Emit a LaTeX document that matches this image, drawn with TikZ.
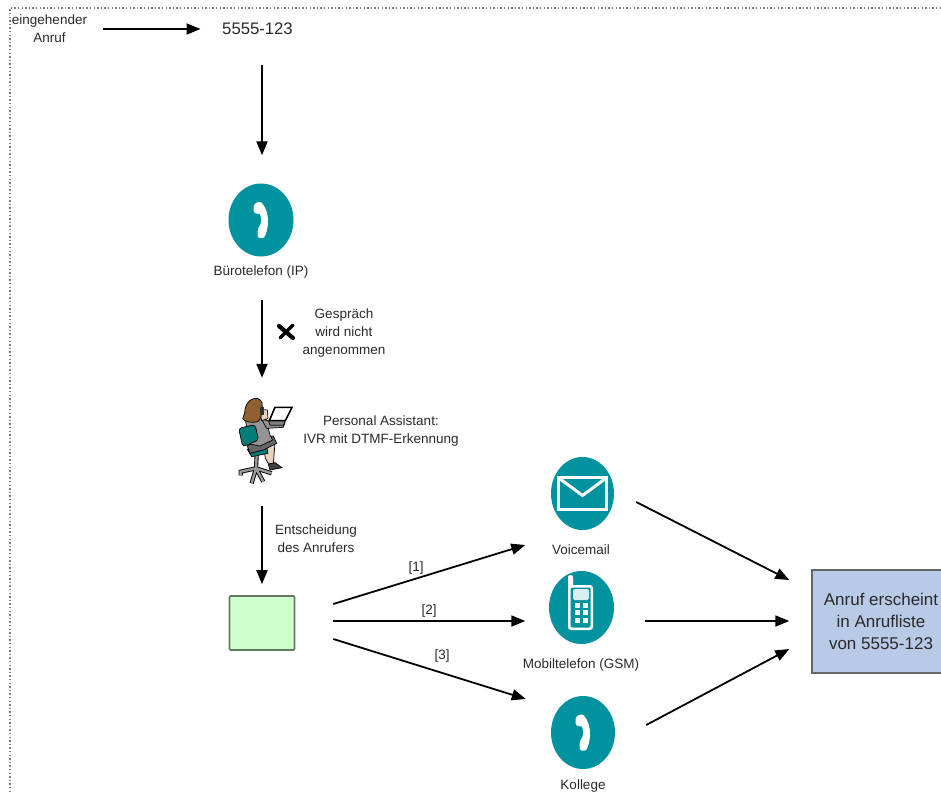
\documentclass[tikz,border=0pt]{standalone}
\usepackage{fontspec}
\setmainfont{Liberation Sans}
\usetikzlibrary{arrows.meta,shapes.geometric}
\definecolor{tealc}{HTML}{00929F}
\definecolor{txt}{HTML}{2A2A2A}
\definecolor{greenfill}{HTML}{CCFFCC}
\definecolor{bluefill}{HTML}{B8CAE6}
\definecolor{chairteal}{HTML}{007D78}
\definecolor{edgegreen}{HTML}{667766}
\tikzset{
  flow/.style={draw=black,line width=1.8pt,-{Triangle[length=14pt,width=11pt]}},
  disc/.style={ellipse,fill=tealc,draw=none,inner sep=0pt,minimum width=#1,minimum height=73pt},
  lab/.style={font=\fontsize{13.5}{18}\selectfont,text=txt,align=center,inner sep=0pt},
  pics/handset/.style={code={
    \fill[white] (-7.5,-13) .. controls (-7,-17) and (-3,-19) .. (0.5,-17.5)
      .. controls (5.5,-12) and (7.5,-4) .. (7,3)
      .. controls (6.5,9) and (5.5,14) .. (3,17.5)
      .. controls (0,19) and (-3.5,18.5) .. (-3.5,15)
      .. controls (-3.5,11) and (-3,7) .. (-1,5.5)
      .. controls (0.5,3) and (0.5,-3) .. (-1,-6)
      .. controls (-3,-6) and (-7,-6) .. (-7.5,-9.5) -- cycle;
  }},
  pics/envelope/.style={code={
    \draw[white,line width=3.4pt] (-24,-16) rectangle (24,16);
    \draw[white,line width=3pt] (-23,-15) -- (0,2) -- (23,-15);
  }},
  pics/mobile/.style={code={
    \fill[white,rounded corners=2pt] (-13.5,-32.5) rectangle (-8.5,-18);
    \fill[white,rounded corners=3pt] (-13.5,-22.5) rectangle (11.5,22.5);
    \fill[tealc,rounded corners=2pt] (-11,-20) rectangle (9,20);
    \fill[white,opacity=.85,rounded corners=2pt] (-8.5,-18.5) rectangle (7.5,-7.5);
    \foreach \yy in {-5,2,10} \foreach \xx in {-6.5,1.5} \fill[white] (\xx,\yy) rectangle ++(5.2,5);
  }},
  pics/agent/.style={code={
    \begin{scope}[line width=.7pt,draw=black]
    % chair base
    \draw[line width=4.2pt,black] (110,195)--(108,235) (108,235)--(62,245)--(62,256) (108,235)--(155,250) (108,235)--(95,280) (108,235)--(130,275);
    \draw[line width=2.4pt,black!40] (110,195)--(108,235) (108,235)--(62,245)--(62,256) (108,235)--(155,250) (108,235)--(95,280) (108,235)--(130,275);
    % legs
    \filldraw[fill=brown!35] (130,160)--(165,158)--(160,222)--(148,225)--(136,205)--cycle;
    \filldraw[fill=black!75] (145,222)--(165,218)--(186,233)--(150,240)--cycle;
    % seat
    \filldraw[fill=chairteal] (82,178)--(140,168)--(144,190)--(95,200)--cycle;
    % skirt
    \filldraw[fill=black!60] (82,168)--(120,142)--(160,138)--(170,160)--(130,180)--(90,190)--cycle;
    % torso
    \filldraw[fill=black!42] (76,88)--(120,72)--(138,88)--(150,135)--(158,150)--(120,168)--(88,162)--cycle;
    % arm
    \filldraw[fill=black!42] (125,88)--(145,92)--(195,98)--(190,112)--(140,115)--cycle;
    % chair back
    \filldraw[fill=chairteal,rounded corners=3pt] (56,115)--(105,104)--(116,150)--(68,170)--cycle;
    % head
    \filldraw[fill=brown!35] (118,58)--(142,60)--(144,85)--(125,92)--cycle;
    \filldraw[fill=brown!75!black] (74,68) .. controls (74,26) and (116,12) .. (126,38) .. controls (130,60) and (124,86) .. (114,95) .. controls (95,99) and (76,97) .. (68,86) -- cycle;
    \fill[black!80] (120,52) rectangle (131,74);
    % laptop
    \filldraw[fill=white,line width=1.6pt] (165,52)--(216,52)--(196,92)--(148,92)--cycle;
    \filldraw[fill=black!50] (146,93)--(196,93)--(190,106)--(150,106)--cycle;
    \end{scope}
  }},
}
\begin{document}
\begin{tikzpicture}[x=1pt,y=-1pt]
\useasboundingbox (0,0) rectangle (941,792);
\fill[white] (0,0) rectangle (941,792);
\begin{scope}
\clip (0,0) rectangle (941,792);
\draw[black!50,line width=1.4pt,dash pattern=on 1.4pt off 2.2pt] (941,8) -- (10,8) -- (10,792);

\node[lab] (call) at (49.5,29) {eingehender\\Anruf};
\node[lab,font=\fontsize{16.7}{18}\selectfont] (num) at (257.5,29) {5555-123};

\node[disc=65pt] (office) at (261,220) {};
\node[lab] (officelab) at (261,272.5) {Bürotelefon (IP)};
\node[lab] (nope) at (344,333.5) {Gespräch\\wird nicht\\angenommen};
\node[inner sep=0pt,minimum width=62pt,minimum height=90pt] (pa) at (262,439) {};
\node[lab] (palab) at (381,431) {Personal Assistant:\\IVR mit DTMF-Erkennung};
\node[lab] (decide) at (316,539) {Entscheidung\\des Anrufers};
\node[rectangle,draw=edgegreen,fill=greenfill,line width=1.6pt,rounded corners=1pt,minimum width=65pt,minimum height=54pt,inner sep=0pt] (choice) at (262,623) {};

\node[disc=63pt] (vm) at (582.5,493.5) {};
\node[lab] (vmlab) at (581,549.5) {Voicemail};
\node[disc=65pt] (gsm) at (581.5,607.5) {};
\node[lab] (gsmlab) at (581,664.5) {Mobiltelefon (GSM)};
\node[disc=64pt] (col) at (583,732.5) {};
\node[lab] (collab) at (583,785.5) {Kollege};

\node[rectangle,draw=black!60,fill=bluefill,line width=1.4pt,minimum width=145pt,minimum height=103pt,inner sep=0pt] (result) at (884.5,621.5) {};
\node[lab,font=\fontsize{17}{22}\selectfont] (restext) at (881,621) {Anruf erscheint\\in Anrufliste\\von 5555-123};

\pic at (office.center) {handset};
\pic at (col.center) {handset};
\pic at (vm.center) {envelope};
\pic at (gsm.center) {mobile};
\pic[scale=.3333] at (220,390) {agent};

\draw[line width=4.2pt,black,line cap=round] (279,326) -- (293,338);
\draw[line width=3.4pt,black,line cap=round] (293,325) -- (280,338);

\draw[flow] ([xshift=16pt]call.east) -- ([xshift=-21.5pt]num.west);
\draw[flow] ([shift={(4.5,30)}]num.south) -- ([shift={(1,-28)}]office.north);
\draw[flow] ([shift={(1,21.5)}]officelab.south) -- ([shift={(0,-16)}]pa.north);
\draw[flow] ([shift={(0,22)}]pa.south) -- ([shift={(0,-11)}]choice.north);
\draw[flow] ([shift={(38,-19)}]choice.east) -- ([shift={(-25.5,51.5)}]vm.west);
\draw[flow] ([shift={(38,-2)}]choice.east) -- ([shift={(-23.5,13.5)}]gsm.west);
\draw[flow] ([shift={(38,16)}]choice.east) -- ([shift={(-25,-33.5)}]col.west);
\draw[flow] ([shift={(22,8.5)}]vm.east) -- ([shift={(-22,-41.5)}]result.west);
\draw[flow] ([shift={(31,13.5)}]gsm.east) -- ([shift={(-22,-.5)}]result.west);
\draw[flow] ([shift={(31,-7.5)}]col.east) -- ([shift={(-22,27.5)}]result.west);

\node[lab] (l1) at (416,568) {[1]};
\node[lab] (l2) at (429,611) {[2]};
\node[lab] (l3) at (442,656) {[3]};
\end{scope}
\end{tikzpicture}
\end{document}
